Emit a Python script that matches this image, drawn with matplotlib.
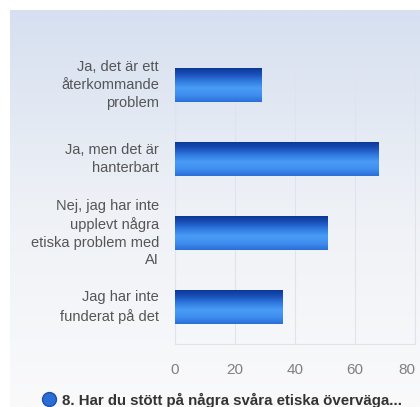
import numpy as np
import matplotlib.pyplot as plt
from matplotlib.colors import LinearSegmentedColormap

plt.rcParams['font.family'] = ['Liberation Sans', 'DejaVu Sans']

categories = [
    "Ja, det är ett\nåterkommande\nproblem",
    "Ja, men det är\nhanterbart",
    "Nej, jag har inte\nupplevt några\netiska problem med\nAI",
    "Jag har inte\nfunderat på det",
]
values = [29, 68, 51, 36]
xticks = [0, 20, 40, 60, 80]
legend_label = "8. Har du stött på några svåra etiska överväga..."

fig = plt.figure(figsize=(4.2, 4.07), dpi=100)

# background panel, light blue at top fading to white
bg = fig.add_axes([10 / 420, 0, 1 - 10 / 420, 397 / 407], zorder=0)
bg_cmap = LinearSegmentedColormap.from_list("bg", ["#fafafb", "#eef1f6", "#d6e0f0"])
bg.imshow(np.linspace(0, 1, 256).reshape(-1, 1), aspect="auto", cmap=bg_cmap,
          origin="lower", extent=[0, 1, 0, 1])
bg.axis("off")

ax = fig.add_axes([175 / 420, 63 / 407, 240 / 420, 296 / 407], zorder=1)
ax.patch.set_alpha(0)

y = np.arange(len(categories))
bars = ax.barh(y, values, height=0.46, color="#2b6fd8", edgecolor="none", zorder=2)

bar_cmap = LinearSegmentedColormap.from_list(
    "bar", ["#0a3590", "#1a4fb8", "#2f7ae0", "#4a9cf6", "#3f8ef0", "#2c6fd6"])
grad = np.linspace(0, 1, 100).reshape(-1, 1)
for b in bars:
    x0, y0 = b.get_x(), b.get_y()
    w, h = b.get_width(), b.get_height()
    im = ax.imshow(grad, aspect="auto", cmap=bar_cmap, extent=[x0, x0 + w, y0 + h, y0],
                   zorder=3)
    im.set_clip_path(b)

ax.set_xlim(0, 80)
ax.set_ylim(len(categories) - 0.5, -0.5)
ax.set_xticks(xticks)
ax.set_xticklabels([str(t) for t in xticks], fontsize=11, color="#808080")
ax.get_xticklabels()[-1].set_ha("right")
ax.set_yticks(y)
ax.set_yticklabels([])
# category labels, right aligned line by line
for yi, cat in zip(y, categories):
    ax.annotate(cat, xy=(0, yi), xycoords=("axes fraction", "data"),
                xytext=(-16, 0), textcoords="offset pixels",
                ha="right", va="center", multialignment="right",
                fontsize=10.5, color="#555555", linespacing=1.35)
ax.tick_params(axis="x", length=0, pad=14)
ax.tick_params(axis="y", length=0)
ax.grid(axis="x", color="#dfe4ec", linewidth=0.8, zorder=0)
for s in ax.spines.values():
    s.set_color("#dfe4ec")
    s.set_linewidth(0.8)

fig.text(62 / 420, 7 / 407, legend_label, fontsize=10.8, fontweight="bold",
         color="#333333", ha="left", va="center")
fig.lines.append(plt.Line2D([49 / 420], [8 / 407], marker="o", markersize=10,
                            color="#2a6dd5", markeredgecolor="#1a4fb0",
                            transform=fig.transFigure))

fig.savefig("out.png", dpi=100)
